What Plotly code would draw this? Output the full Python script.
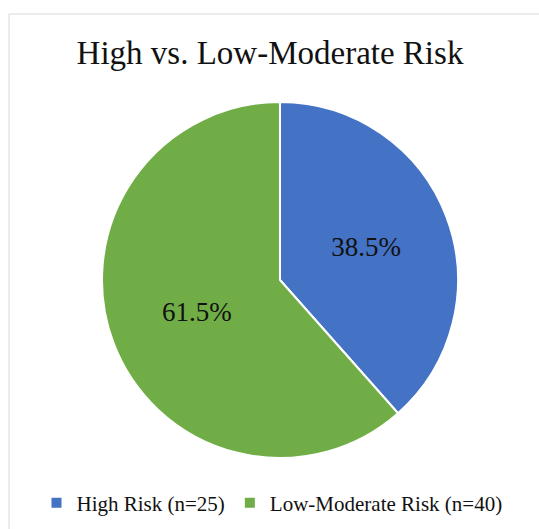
import plotly.graph_objects as go

labels = ["High Risk (n=25)", "Low-Moderate Risk (n=40)"]
values = [25, 40]
colors = ["#4472C4", "#70AD47"]
title_text = "High vs. Low-Moderate Risk"

W, H = 539, 529


def fx(x):
    return x / W


def fy(y):
    return 1 - y / H


fig = go.Figure(
    go.Pie(
        labels=labels,
        values=values,
        sort=False,
        direction="clockwise",
        rotation=0,
        domain=dict(x=[fx(102), fx(458)], y=[fy(458), fy(102)]),
        marker=dict(colors=colors, line=dict(color="white", width=2)),
        texttemplate="%{percent:.1%}",
        textposition="inside",
        insidetextorientation="horizontal",
        textfont=dict(family="Liberation Serif", size=27, color="#111111"),
        hoverinfo="label+percent",
    )
)

fig.update_layout(
    width=W,
    height=H,
    margin=dict(l=0, r=0, t=0, b=0, autoexpand=False),
    paper_bgcolor="white",
    plot_bgcolor="white",
    font=dict(family="Liberation Serif", color="#111111"),
    title=dict(
        text=title_text,
        font=dict(family="Liberation Serif", size=33, color="#111111"),
        x=fx(270),
        xanchor="center",
        xref="container",
        yref="container",
        y=fy(64),
        yanchor="bottom",
    ),
    legend=dict(
        orientation="h",
        x=fx(272),
        xanchor="center",
        y=fy(503),
        yanchor="middle",
        font=dict(family="Liberation Serif", size=21, color="#111111"),
        itemwidth=30,
    ),
    shapes=[
        dict(
            type="rect",
            xref="paper",
            yref="paper",
            x0=fx(9),
            x1=fx(560),
            y0=fy(560),
            y1=fy(14),
            line=dict(color="#D9D9D9", width=1),
            fillcolor="rgba(0,0,0,0)",
            layer="below",
        )
    ],
)

fig.write_html("out.html")
